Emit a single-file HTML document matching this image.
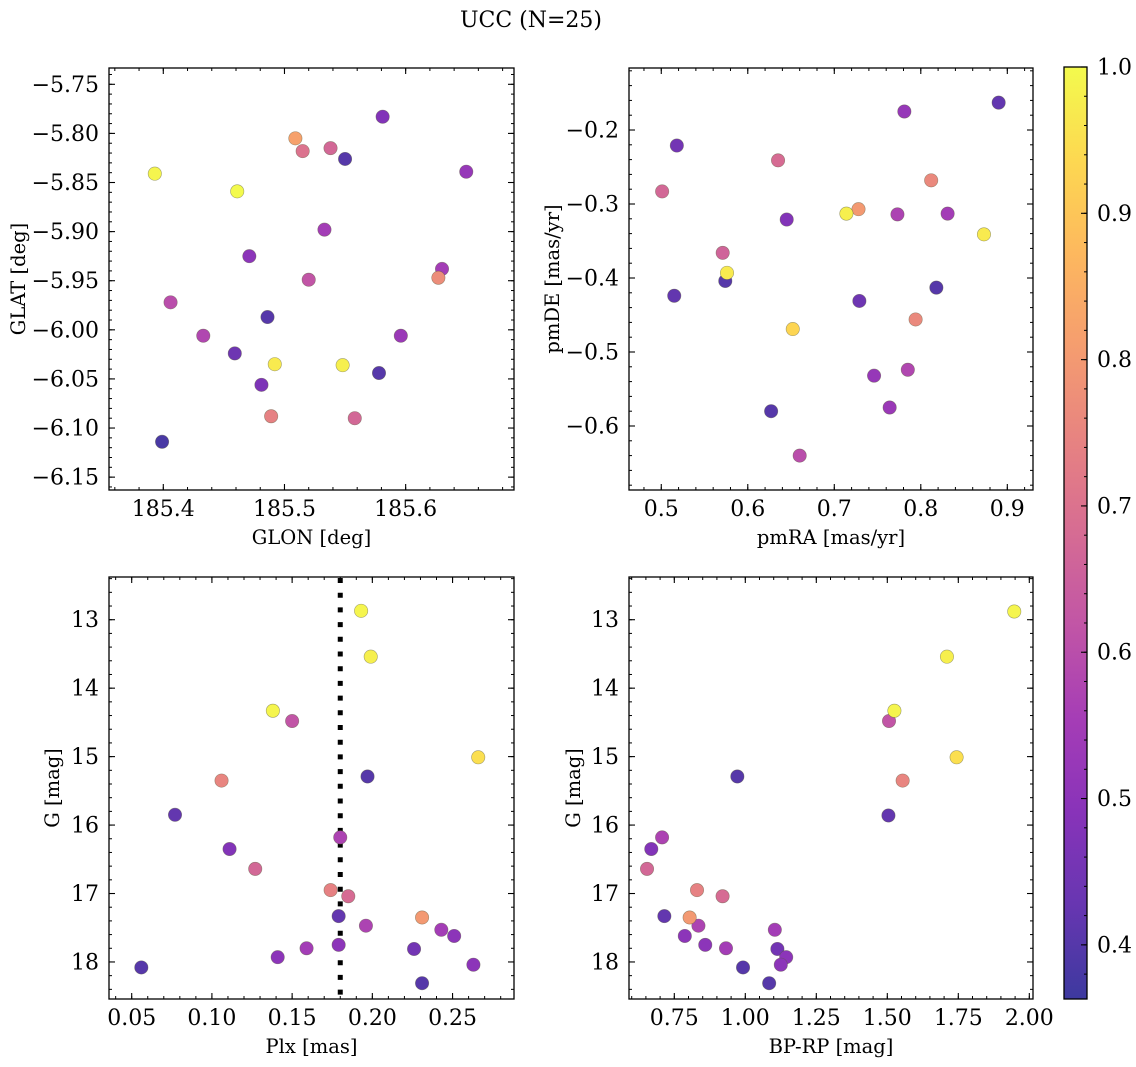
<!DOCTYPE html>
<html><head><meta charset="utf-8">
<style>
html,body{margin:0;padding:0;background:#fff;}
svg{display:block;font-family:"DejaVu Serif","Liberation Serif",serif;}
</style></head>
<body>
<svg id="fig" width="1136" height="1067" viewBox="0 0 1136 1067" xmlns="http://www.w3.org/2000/svg">
<rect width="1136" height="1067" fill="#fff"/>
<text x="531" y="27" font-size="22" text-anchor="middle">UCC (N=25)</text>
</svg>
<script>
// ---- data ----
const glon = [185.393,185.461,185.509,185.515,185.538,185.550,185.581,185.650,185.533,185.471,185.520,185.630,185.627,185.406,185.486,185.433,185.596,185.459,185.492,185.548,185.578,185.481,185.489,185.558,185.399];
const glat = [-5.841,-5.859,-5.805,-5.818,-5.815,-5.826,-5.783,-5.839,-5.898,-5.925,-5.949,-5.938,-5.947,-5.972,-5.987,-6.006,-6.006,-6.024,-6.035,-6.036,-6.044,-6.056,-6.088,-6.090,-6.114];
const probA = [0.99,1.0,0.82,0.70,0.67,0.40,0.48,0.52,0.55,0.50,0.62,0.55,0.77,0.60,0.40,0.58,0.53,0.44,0.97,0.98,0.40,0.47,0.74,0.67,0.38];

const pmra = [0.518,0.501,0.635,0.781,0.890,0.812,0.714,0.728,0.773,0.831,0.645,0.873,0.571,0.576,0.574,0.515,0.818,0.729,0.794,0.652,0.746,0.785,0.764,0.627,0.660];
const pmde = [-0.221,-0.283,-0.241,-0.175,-0.163,-0.268,-0.313,-0.307,-0.314,-0.313,-0.321,-0.341,-0.366,-0.393,-0.404,-0.424,-0.413,-0.431,-0.456,-0.469,-0.532,-0.524,-0.575,-0.580,-0.640];
const probB = [0.45,0.67,0.68,0.52,0.42,0.76,0.98,0.80,0.57,0.55,0.48,0.97,0.66,0.97,0.40,0.42,0.40,0.44,0.76,0.93,0.52,0.58,0.53,0.40,0.60];

const plx  = [0.193,0.199,0.138,0.150,0.266,0.197,0.106,0.077,0.180,0.111,0.127,0.174,0.185,0.179,0.231,0.196,0.243,0.251,0.159,0.179,0.226,0.141,0.263,0.056,0.231];
const gmag = [12.87,13.54,14.33,14.48,15.01,15.29,15.35,15.85,16.18,16.35,16.64,16.95,17.04,17.33,17.35,17.47,17.53,17.62,17.80,17.75,17.81,17.93,18.04,18.08,18.31];
const probC = [0.99,0.98,0.99,0.62,0.95,0.40,0.75,0.42,0.57,0.48,0.67,0.74,0.68,0.42,0.80,0.57,0.55,0.50,0.55,0.50,0.45,0.50,0.50,0.40,0.40];

const bprp = [1.947,1.710,1.525,1.506,1.744,0.972,1.554,1.504,0.707,0.669,0.654,0.830,0.920,0.715,0.804,0.835,1.104,0.787,0.932,0.859,1.113,1.144,1.125,0.992,1.084];
const gmag2 = [12.88,13.54,14.33,14.48,15.01,15.29,15.35,15.86,16.18,16.35,16.64,16.95,17.04,17.33,17.35,17.47,17.53,17.62,17.80,17.75,17.81,17.93,18.04,18.08,18.31];
const probD = [0.99,0.98,0.99,0.62,0.95,0.40,0.75,0.42,0.57,0.48,0.67,0.74,0.68,0.42,0.80,0.57,0.55,0.50,0.55,0.50,0.45,0.50,0.50,0.40,0.40];

const plxCut = 0.18;
const cbTicks = [0.4,0.5,0.6,0.7,0.8,0.9,1.0];
const cMin = 0.363, cMax = 1.0;

const NS="http://www.w3.org/2000/svg";
const svg=document.getElementById('fig');
const FS=22, LFS=19.5;
function el(tag,attrs,parent){const e=document.createElementNS(NS,tag);for(const k in attrs)e.setAttribute(k,attrs[k]);(parent||svg).appendChild(e);return e;}

const plasma=[[13,8,135],[65,4,157],[106,0,168],[143,13,164],[177,42,144],[204,71,120],[225,100,98],[242,132,75],[252,166,54],[252,206,37],[240,249,33]];
function cmap(v){let t=(v-cMin)/(cMax-cMin);t=Math.max(0,Math.min(1,t));const f=t*10;const i=Math.min(9,Math.floor(f));const r=f-i;const a=plasma[i],b=plasma[i+1];
 const c=[0,1,2].map(k=>Math.round((a[k]+(b[k]-a[k])*r)*0.8+255*0.2));return `rgb(${c[0]},${c[1]},${c[2]})`;}

function fmt(v,d){const s=v.toFixed(d);return s.startsWith('-')?'\u2212'+s.slice(1):s;}

function panel(cfg){
 const [x0,y0,x1,y1]=cfg.box;
 const sx=v=>x0+(v-cfg.xd[0])/(cfg.xd[1]-cfg.xd[0])*(x1-x0);
 const sy=cfg.inv? v=>y0+(v-cfg.yd[0])/(cfg.yd[1]-cfg.yd[0])*(y1-y0)
                 : v=>y1-(v-cfg.yd[0])/(cfg.yd[1]-cfg.yd[0])*(y1-y0);
 const g=el('g',{});
 
 
 const lo=Math.min(...cfg.yd),hi=Math.max(...cfg.yd);
 for(let v=Math.ceil(cfg.xd[0]/cfg.xmin-1e-9)*cfg.xmin;v<=cfg.xd[1]+1e-9;v+=cfg.xmin){const x=sx(v);
  el('line',{x1:x,x2:x,y1:y1,y2:y1-3,stroke:'#000','stroke-width':1},g);el('line',{x1:x,x2:x,y1:y0,y2:y0+3,stroke:'#000','stroke-width':1},g);}
 for(let v=Math.ceil(lo/cfg.ymin-1e-9)*cfg.ymin;v<=hi+1e-9;v+=cfg.ymin){const y=sy(v);
  el('line',{x1:x0,x2:x0+3,y1:y,y2:y,stroke:'#000','stroke-width':1},g);el('line',{x1:x1,x2:x1-3,y1:y,y2:y,stroke:'#000','stroke-width':1},g);}
 cfg.xt.forEach(v=>{const x=sx(v);
  el('line',{x1:x,x2:x,y1:y1,y2:y1-6,stroke:'#000','stroke-width':1.1},g);el('line',{x1:x,x2:x,y1:y0,y2:y0+6,stroke:'#000','stroke-width':1.1},g);
  const t=el('text',{x:x,y:y1+26,'font-size':FS,'text-anchor':'middle'},g);t.textContent=fmt(v,cfg.xdp);
  
  });
 cfg.yt.forEach(v=>{const y=sy(v);
  el('line',{x1:x0,x2:x0+6,y1:y,y2:y,stroke:'#000','stroke-width':1.1},g);el('line',{x1:x1,x2:x1-6,y1:y,y2:y,stroke:'#000','stroke-width':1.1},g);
  const t=el('text',{x:x0-10,y:y+7.5,'font-size':FS,'text-anchor':'end'},g);t.textContent=fmt(v,cfg.ydp);
  
  });
 if(cfg.vline!==undefined){const x=sx(cfg.vline);
  const l=el('line',{x1:x,x2:x,y1:y0+1,y2:y1,stroke:'#000','stroke-width':5,'stroke-dasharray':'5 9.7'},g);
  
  }
 const idx=cfg.x.map((_,i)=>i).sort((a,b)=>cfg.c[a]-cfg.c[b]);
 idx.forEach(i=>{const p=el('circle',{cx:sx(cfg.x[i]),cy:sy(cfg.y[i]),r:6.7,fill:cmap(cfg.c[i]),stroke:'rgba(90,90,60,0.55)','stroke-width':0.6},g);
  
  });
 const fr=el('rect',{x:x0,y:y0,width:x1-x0,height:y1-y0,fill:'none',stroke:'#000','stroke-width':1.3},g);
 
 
 const xl=el('text',{x:(x0+x1)/2,y:y1+54,'font-size':LFS,'text-anchor':'middle'},g);xl.textContent=cfg.xlab;
 
 
 const yl=el('text',{x:0,y:0,'font-size':LFS,'text-anchor':'middle',transform:`translate(${cfg.ylx},${(y0+y1)/2}) rotate(-90)`},g);yl.textContent=cfg.ylab;
 
 
}

panel({name:'panel-glon-glat',box:[109,68,514,490],xd:[185.3552,185.6894],yd:[-6.1631,-5.7334],xt:[185.4,185.5,185.6],xdp:1,xmin:0.02,
 yt:[-6.15,-6.10,-6.05,-6.00,-5.95,-5.90,-5.85,-5.80,-5.75],ydp:2,ymin:0.01,x:glon,y:glat,c:probA,xlab:'GLON [deg]',ylab:'GLAT [deg]',ylx:25});
panel({name:'panel-pm',box:[629,68,1033,490],xd:[0.4627,0.9297],yd:[-0.6865,-0.1162],xt:[0.5,0.6,0.7,0.8,0.9],xdp:1,xmin:0.02,
 yt:[-0.6,-0.5,-0.4,-0.3,-0.2],ydp:1,ymin:0.02,x:pmra,y:pmde,c:probB,xlab:'pmRA [mas/yr]',ylab:'pmDE [mas/yr]',ylx:559});
panel({name:'panel-plx-g',box:[109,577,514,999],xd:[0.03585,0.2883],yd:[12.376,18.541],inv:true,xt:[0.05,0.10,0.15,0.20,0.25],xdp:2,xmin:0.01,
 yt:[13,14,15,16,17,18],ydp:0,ymin:0.2,x:plx,y:gmag,c:probC,xlab:'Plx [mas]',ylab:'G [mag]',ylx:59,vline:plxCut});
panel({name:'panel-cmd',box:[629,577,1033,999],xd:[0.5905,2.013],yd:[12.376,18.541],inv:true,xt:[0.75,1.00,1.25,1.50,1.75,2.00],xdp:2,xmin:0.05,
 yt:[13,14,15,16,17,18],ydp:0,ymin:0.2,x:bprp,y:gmag2,c:probD,xlab:'BP-RP [mag]',ylab:'G [mag]',ylx:580});

(function(){
 const cx0=1064,cx1=1087,cy0=67,cy1=999;
 const g=el('g',{});
 
 
 const defs=el('defs',{},g);
 const lg=el('linearGradient',{id:'cbg',x1:0,y1:1,x2:0,y2:0},defs);
 for(let i=0;i<=20;i++){const v=cMin+(cMax-cMin)*i/20;el('stop',{offset:i/20,'stop-color':cmap(v)},lg);}
 el('rect',{x:cx0,y:cy0,width:cx1-cx0,height:cy1-cy0,fill:'url(#cbg)'},g);
 const sy=v=>cy1-(v-cMin)/(cMax-cMin)*(cy1-cy0);
 for(let v=0.38;v<=1.0001;v+=0.02){const y=sy(v);el('line',{x1:cx1,x2:cx1-3,y1:y,y2:y,stroke:'#000','stroke-width':1},g);}
 cbTicks.forEach(v=>{const y=sy(v);el('line',{x1:cx1,x2:cx1-6,y1:y,y2:y,stroke:'#000','stroke-width':1.1},g);
  const t=el('text',{x:1097,y:y+7.5,'font-size':FS},g);t.textContent=v.toFixed(1);
  
  });
 el('rect',{x:cx0,y:cy0,width:cx1-cx0,height:cy1-cy0,fill:'none',stroke:'#000','stroke-width':1.3},g);
})();
</script>
</body></html>
